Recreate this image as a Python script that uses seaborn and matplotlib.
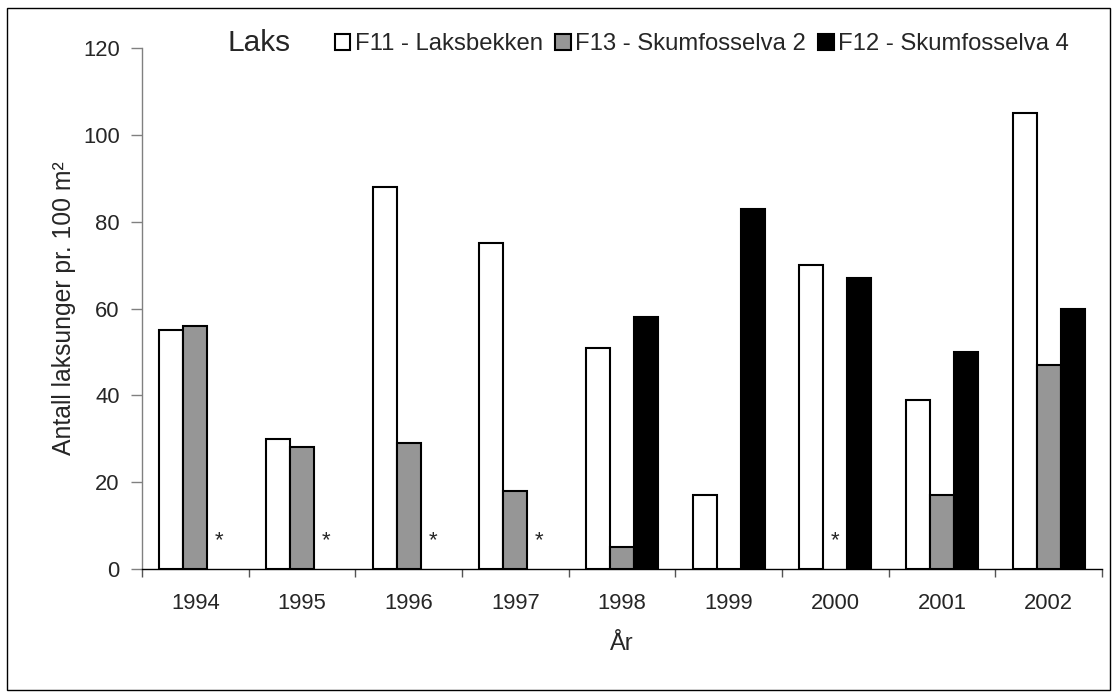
import numpy as np
import pandas as pd
import matplotlib
matplotlib.use('Agg')
import matplotlib.pyplot as plt
import seaborn as sns
from matplotlib.patches import Rectangle

years = ['1994', '1995', '1996', '1997', '1998', '1999', '2000', '2001', '2002']
series = ['F11 - Laksbekken', 'F13 - Skumfosselva 2', 'F12 - Skumfosselva 4']
f11 = [55, 30, 88, 75, 51, 17, 70, 39, 105]
f13 = [56, 28, 29, 18, 5, 0, np.nan, 17, 47]
f12 = [np.nan, np.nan, np.nan, np.nan, 58, 83, 67, 50, 60]
colors = ['white', '#969696', 'black']

rows = []
for name, vals in zip(series, [f11, f13, f12]):
    for yr, v in zip(years, vals):
        rows.append({'year': yr, 'series': name, 'value': v})
df = pd.DataFrame(rows)

sns.set_style('white')
plt.rcParams['font.family'] = ['Liberation Sans', 'DejaVu Sans']

fig = plt.figure(figsize=(11.17, 6.98), dpi=100)
ax = fig.add_axes([0.1271, 0.1848, 0.8595, 0.7464])

width = 0.675
sns.barplot(data=df, x='year', y='value', hue='series', order=years,
            hue_order=series, palette=colors, width=width, errorbar=None,
            edgecolor='black', linewidth=1.5, saturation=1, ax=ax)

# asterisks for missing values
step = width / len(series)
for j, name in enumerate(series):
    vals = df[df['series'] == name]['value'].to_numpy()
    for i, v in enumerate(vals):
        if np.isnan(v):
            ax.text(i + (j - 1) * step, 6.5, '*', ha='center', va='center', fontsize=16)

ax.set_xlim(-0.5, len(years) - 0.5)
ax.set_ylim(0, 120)
ax.set_yticks(range(0, 121, 20))
ax.set_xticks(np.arange(-0.5, len(years), 1.0), minor=True)
ax.tick_params(axis='x', which='major', length=0, pad=17, labelsize=15.8)
ax.tick_params(axis='x', which='minor', length=6, width=1, color='#555555', direction='out')
ax.tick_params(axis='y', length=8, width=1, color='#808080', direction='out', labelsize=15.8, pad=8)
ax.tick_params(bottom=True, left=True, which='both')

for s in ['top', 'right']:
    ax.spines[s].set_visible(False)
ax.spines['left'].set_color('#808080')
ax.spines['bottom'].set_color('black')
ax.spines['left'].set_linewidth(1)
ax.spines['bottom'].set_linewidth(1)

ax.set_xlabel('År', fontsize=17, labelpad=14)
ax.set_ylabel('Antall laksunger pr. 100 m²', fontsize=17.8, labelpad=5)

ax.legend(loc='center left', bbox_to_anchor=(0.289, 0.937), bbox_transform=fig.transFigure,
          ncol=3, frameon=False, fontsize=17.2, handlelength=0.65, handleheight=0.65,
          handletextpad=0.2, columnspacing=0.5, borderpad=0)

fig.text(0.204, 0.938, 'Laks', fontsize=21.5, va='center', ha='left')

fig.patches.append(Rectangle((7 / 1117, 8 / 698), 1103 / 1117, 682 / 698,
                             transform=fig.transFigure, fill=False,
                             edgecolor='black', linewidth=1))

fig.savefig('out.png', dpi=100)
